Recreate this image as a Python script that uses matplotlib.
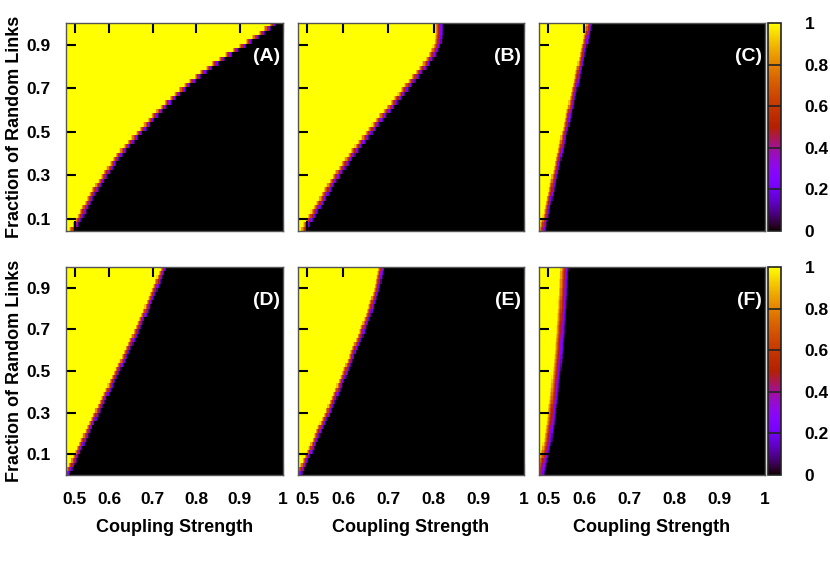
import numpy as np
import matplotlib
matplotlib.use("Agg")
import matplotlib.pyplot as plt

plt.rcParams["font.family"] = ["Liberation Sans", "DejaVu Sans"]
plt.rcParams["font.weight"] = "bold"

# ---------------- data ----------------
coupling_range = (0.5, 1.0)        # x extent of every map
n_coupling = 200                   # columns, step 0.0025
top_row_y_range = (0.045, 1.0)     # panels A-C
bottom_row_y_range = (0.0, 1.0)    # panels D-F
# width of the 1 -> 0 crossover in coupling strength, per panel
transition_widths = [0.016, 0.018, 0.014, 0.014, 0.014, 0.02]

# critical coupling (yellow/black boundary) for each row of fraction of random links
boundary_A = [0.516, 0.522, 0.528, 0.534, 0.539, 0.544, 0.550, 0.555, 0.561, 0.567,
              0.574, 0.581, 0.588, 0.594, 0.601, 0.608, 0.615, 0.622, 0.631, 0.640,
              0.649, 0.658, 0.668, 0.677, 0.686, 0.695, 0.704, 0.714, 0.724, 0.734,
              0.745, 0.756, 0.767, 0.778, 0.790, 0.802, 0.815, 0.828, 0.842, 0.857,
              0.873, 0.889, 0.905, 0.920, 0.935, 0.950, 0.962, 0.974]
boundary_B = [0.515, 0.519, 0.525, 0.531, 0.537, 0.543, 0.549, 0.555, 0.560, 0.566,
              0.572, 0.578, 0.585, 0.591, 0.598, 0.605, 0.612, 0.619, 0.626, 0.634,
              0.641, 0.649, 0.657, 0.664, 0.672, 0.680, 0.688, 0.697, 0.705, 0.713,
              0.721, 0.729, 0.736, 0.744, 0.752, 0.760, 0.768, 0.776, 0.784, 0.791,
              0.798, 0.803, 0.807, 0.810, 0.811, 0.812, 0.812, 0.812]
boundary_C = [0.508, 0.510, 0.512, 0.515, 0.517, 0.519, 0.521, 0.523, 0.526, 0.528,
              0.530, 0.532, 0.534, 0.537, 0.539, 0.541, 0.543, 0.545, 0.548, 0.550,
              0.552, 0.554, 0.556, 0.559, 0.561, 0.563, 0.565, 0.567, 0.570, 0.572,
              0.574, 0.576, 0.578, 0.581, 0.583, 0.585, 0.587, 0.589, 0.592, 0.594,
              0.596, 0.598, 0.600, 0.603, 0.605, 0.607, 0.609, 0.611]
boundary_D = [0.503, 0.508, 0.513, 0.518, 0.522, 0.527, 0.531, 0.536, 0.540, 0.545,
              0.550, 0.554, 0.559, 0.564, 0.568, 0.573, 0.578, 0.583, 0.587, 0.592,
              0.597, 0.602, 0.606, 0.611, 0.616, 0.620, 0.625, 0.630, 0.634, 0.639,
              0.643, 0.648, 0.652, 0.657, 0.661, 0.666, 0.670, 0.674, 0.679, 0.683,
              0.687, 0.691, 0.695, 0.699, 0.703, 0.707, 0.711, 0.715, 0.719, 0.723]
boundary_E = [0.503, 0.507, 0.512, 0.516, 0.521, 0.526, 0.530, 0.534, 0.538, 0.542,
              0.546, 0.550, 0.555, 0.559, 0.564, 0.568, 0.572, 0.576, 0.580, 0.584,
              0.588, 0.592, 0.596, 0.600, 0.604, 0.607, 0.611, 0.615, 0.619, 0.622,
              0.626, 0.630, 0.634, 0.638, 0.642, 0.645, 0.649, 0.652, 0.656, 0.659,
              0.662, 0.665, 0.668, 0.671, 0.674, 0.676, 0.678, 0.680, 0.682, 0.684]
boundary_F = [0.503, 0.505, 0.507, 0.509, 0.512, 0.514, 0.516, 0.518, 0.520, 0.521,
              0.523, 0.524, 0.526, 0.527, 0.528, 0.529, 0.530, 0.532, 0.533, 0.534,
              0.535, 0.536, 0.537, 0.538, 0.539, 0.540, 0.541, 0.542, 0.543, 0.544,
              0.545, 0.545, 0.546, 0.547, 0.548, 0.548, 0.549, 0.550, 0.550, 0.551,
              0.552, 0.552, 0.553, 0.554, 0.554, 0.555, 0.555, 0.556, 0.556, 0.557]

panel_labels = ["(A)", "(B)", "(C)", "(D)", "(E)", "(F)"]
x_ticks = [0.52, 0.6, 0.7, 0.8, 0.9, 1.0]
x_tick_labels = ["0.5", "0.6", "0.7", "0.8", "0.9", "1"]
y_ticks = [0.1, 0.3, 0.5, 0.7, 0.9]
y_tick_labels = ["0.1", "0.3", "0.5", "0.7", "0.9"]
cbar_ticks = [0.0, 0.2, 0.4, 0.6, 0.8, 1.0]
cbar_tick_labels = ["0", "0.2", "0.4", "0.6", "0.8", "1"]
x_label = "Coupling Strength"
y_label = "Fraction of Random Links"

# ---------------- layout (pixels) ----------------
W, H = 830, 581
col_left = [66, 298, 539]
col_width = [217, 226, 226]
row_top = [23, 267]
row_h = 208
cbar_left, cbar_w = 768, 13

fig = plt.figure(figsize=(W / 100, H / 100), dpi=100)


def px_axes(l, t, w, h):
    return fig.add_axes([l / W, 1 - (t + h) / H, w / W, h / H])


boundaries = [boundary_A, boundary_B, boundary_C, boundary_D, boundary_E, boundary_F]
x_edges = np.linspace(coupling_range[0], coupling_range[1], n_coupling + 1)
x_centers = 0.5 * (x_edges[:-1] + x_edges[1:])

spine_col = "#555555"
for k in range(6):
    r, c = divmod(k, 3)
    ax = px_axes(col_left[c], row_top[r], col_width[c], row_h)
    yr = top_row_y_range if r == 0 else bottom_row_y_range
    b = np.asarray(boundaries[k])[:, None]
    Z = np.clip(0.5 + (b - x_centers[None, :]) / transition_widths[k], 0, 1)
    im = ax.imshow(Z, origin="lower", aspect="auto", cmap="gnuplot", vmin=0, vmax=1,
                   extent=[coupling_range[0], coupling_range[1], yr[0], yr[1]],
                   interpolation="nearest")
    ax.set_xlim(*coupling_range)
    ax.set_ylim(*yr)
    ax.set_xticks(x_ticks)
    ax.set_xticklabels(x_tick_labels)
    ax.set_yticks(y_ticks)
    ax.set_yticklabels(y_tick_labels)
    ax.tick_params(direction="in", length=7, width=1.5, color="black",
                   top=True, right=True, bottom=True, left=True,
                   labelsize=12.5, labelleft=(c == 0), labelbottom=(r == 1))
    ax.tick_params(axis="y", pad=11)
    ax.tick_params(axis="x", pad=12)
    for s in ax.spines.values():
        s.set_color(spine_col)
        s.set_linewidth(1.0)
    ax.text(0.985, 0.84, panel_labels[k], transform=ax.transAxes, ha="right",
            va="center", color="white", fontsize=14, fontweight="bold")
    if c == 0:
        ax.set_ylabel(y_label, fontsize=13, fontweight="bold", va="center")
        ax.yaxis.set_label_coords((15 - col_left[0]) / col_width[0], 0.5)
    if r == 1:
        ax.set_xlabel(x_label, fontsize=13, fontweight="bold", va="center")
        ax.xaxis.set_label_coords(0.5, -(528 - (row_top[1] + row_h)) / row_h)

    if c == 2:
        cax = px_axes(cbar_left, row_top[r], cbar_w, row_h)
        cb = fig.colorbar(im, cax=cax)
        cb.set_ticks(cbar_ticks)
        cb.set_ticklabels(cbar_tick_labels)
        cax.tick_params(length=0, pad=17, labelsize=12.5)
        cb.outline.set_edgecolor("#222222")
        cb.outline.set_linewidth(1.2)
        for v in cbar_ticks[1:-1]:
            cax.axhline(v, color="#222222", lw=1.2)

fig.savefig("out.png", dpi=100)
